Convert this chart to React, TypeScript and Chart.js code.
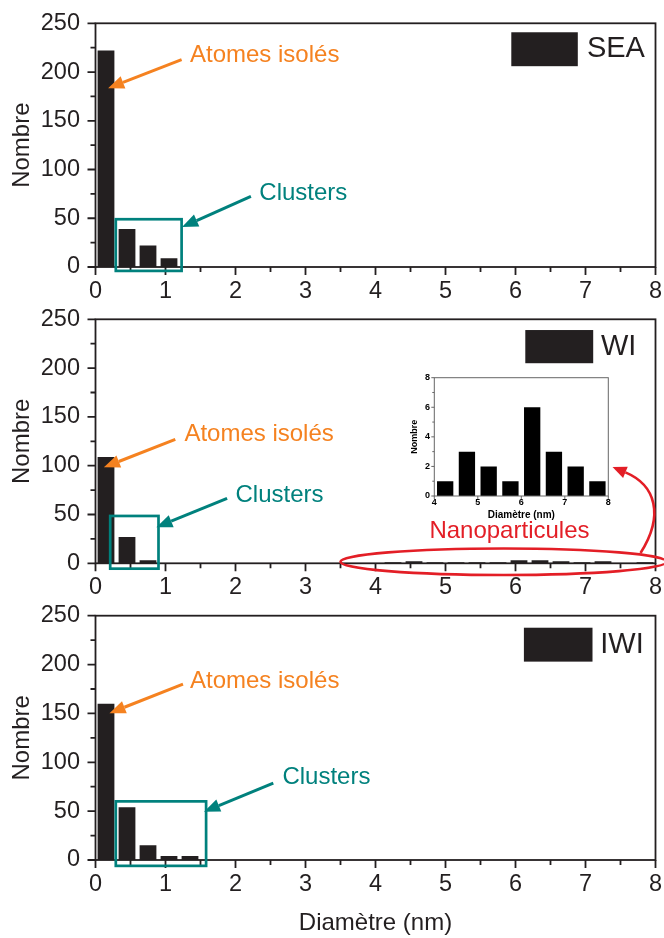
import React, { useEffect, useRef } from 'react';
import { Chart, registerables } from 'chart.js';
Chart.register(...registerables);

// ---------- data ----------
const seaDiam = [0.15, 0.45, 0.75, 1.05];
const seaCount = [222, 39, 22, 9];
const wiDiam = [0.15, 0.45, 0.75, 4.25, 4.55, 4.85, 5.15, 5.45, 5.75, 6.05, 6.35, 6.65, 6.95, 7.25, 7.85];
const wiCount = [109, 27, 3, 1, 2, 1, 1, 1, 1, 3, 3, 2, 1, 2, 1];
const iwiDiam = [0.15, 0.45, 0.75, 1.05, 1.35];
const iwiCount = [160, 54, 15, 4, 4];
const insetDiam = [4.25, 4.75, 5.25, 5.75, 6.25, 6.75, 7.25, 7.75];
const insetCount = [1, 3, 2, 1, 6, 3, 2, 1];
const xRange = [0, 8];
const yRange = [0, 250];
const insetXRange = [4, 8];
const insetYRange = [0, 8];

// ---------- styles ----------
const DARK = '#231F20';
const ORANGE = '#F58220';
const TEAL = '#00817D';
const RED = '#E31E26';
const FONT = "'Liberation Sans', Arial, Helvetica, sans-serif";

const frameTicks = {
  id: 'frameTicks',
  afterDraw(chart: any, _a: any, o: any) {
    const { ctx, chartArea: a, scales } = chart;
    const x = scales.x, y = scales.y;
    ctx.save();
    ctx.strokeStyle = o.color;
    ctx.lineWidth = o.lineWidth;
    ctx.strokeRect(a.left, a.top, a.right - a.left, a.bottom - a.top);
    ctx.beginPath();
    const n = Math.round((x.max - x.min) / o.xMinor);
    for (let i = 0; i <= n; i++) {
      const v = x.min + i * o.xMinor;
      const major = Math.abs(v / o.xMajor - Math.round(v / o.xMajor)) < 1e-6;
      const px = x.getPixelForValue(v);
      ctx.moveTo(px, a.bottom);
      ctx.lineTo(px, a.bottom + (major ? o.majorLen : o.minorLen));
    }
    const m = Math.round((y.max - y.min) / o.yMinor);
    for (let i = 0; i <= m; i++) {
      const v = y.min + i * o.yMinor;
      const major = Math.abs(v / o.yMajor - Math.round(v / o.yMajor)) < 1e-6;
      const py = y.getPixelForValue(v);
      ctx.moveTo(a.left, py);
      ctx.lineTo(a.left - (major ? o.majorLen : o.minorLen), py);
    }
    ctx.stroke();
    ctx.restore();
  },
};

function arrowHead(ctx: any, x1: number, y1: number, x2: number, y2: number, len: number, hw: number) {
  const ang = Math.atan2(y2 - y1, x2 - x1);
  const bx = x2 - len * Math.cos(ang), by = y2 - len * Math.sin(ang);
  ctx.beginPath();
  ctx.moveTo(x2, y2);
  ctx.lineTo(bx + hw * Math.sin(ang), by - hw * Math.cos(ang));
  ctx.lineTo(bx - hw * Math.sin(ang), by + hw * Math.cos(ang));
  ctx.closePath();
  ctx.fill();
  return [bx, by];
}

const anno = {
  id: 'anno',
  afterDraw(chart: any, _a: any, o: any) {
    const { ctx, scales } = chart;
    const X = (v: number) => scales.x.getPixelForValue(v);
    const Y = (v: number) => scales.y.getPixelForValue(v);
    ctx.save();
    for (const it of o.items || []) {
      ctx.strokeStyle = it.color;
      ctx.fillStyle = it.color;
      if (it.type === 'box') {
        ctx.lineWidth = 2.7;
        ctx.strokeRect(X(it.x1), Y(it.y2), X(it.x2) - X(it.x1), Y(it.y1) - Y(it.y2));
      } else if (it.type === 'arrow') {
        const x1 = X(it.x1), y1 = Y(it.y1), x2 = X(it.x2), y2 = Y(it.y2);
        const [bx, by] = arrowHead(ctx, x1, y1, x2, y2, 16, 6.5);
        ctx.lineWidth = 3;
        ctx.beginPath();
        ctx.moveTo(x1, y1);
        ctx.lineTo(bx, by);
        ctx.stroke();
      } else if (it.type === 'text') {
        ctx.font = `${it.size}px ${FONT}`;
        ctx.textAlign = 'left';
        ctx.textBaseline = 'middle';
        ctx.fillText(it.text, X(it.x), Y(it.y));
      } else if (it.type === 'rect') {
        ctx.fillRect(X(it.x1), Y(it.y2), X(it.x2) - X(it.x1), Y(it.y1) - Y(it.y2));
      } else if (it.type === 'ellipse') {
        const cx = X(it.cx), cy = Y(it.cy);
        const rx = X(it.cx + it.rx) - cx, ry = cy - Y(it.cy + it.ry);
        ctx.lineWidth = 2.6;
        ctx.beginPath();
        ctx.ellipse(cx, cy, rx, ry, 0, 0, Math.PI * 2);
        ctx.stroke();
      } else if (it.type === 'curve') {
        const p = it.pts.map((q: number[]) => [X(q[0]), Y(q[1])]);
        const [bx, by] = arrowHead(ctx, p[2][0], p[2][1], p[3][0], p[3][1], 14, 6);
        ctx.lineWidth = 2.6;
        ctx.beginPath();
        ctx.moveTo(p[0][0], p[0][1]);
        ctx.bezierCurveTo(p[1][0], p[1][1], p[2][0], p[2][1], bx, by);
        ctx.stroke();
      }
    }
    ctx.restore();
  },
};

type Panel = {
  xs: number[]; ys: number[]; top: number; height: number; padTop: number; xAxisH: number;
  xTitle: boolean; items: any[];
};

const panels: Panel[] = [
  {
    xs: seaDiam, ys: seaCount, top: 0, height: 305, padTop: 23.3, xAxisH: 38, xTitle: false,
    items: [
      { type: 'box', color: TEAL, x1: 0.29, x2: 1.23, y1: -4, y2: 49 },
      { type: 'arrow', color: ORANGE, x1: 1.23, y1: 212.8, x2: 0.18, y2: 183.4 },
      { type: 'text', color: ORANGE, text: 'Atomes isolés', x: 1.35, y: 217, size: 24 },
      { type: 'arrow', color: TEAL, x1: 2.22, y1: 72.5, x2: 1.236, y2: 41 },
      { type: 'text', color: TEAL, text: 'Clusters', x: 2.34, y: 75.8, size: 24 },
      { type: 'rect', color: DARK, x1: 5.94, x2: 6.89, y1: 206, y2: 240.8 },
      { type: 'text', color: DARK, text: 'SEA', x: 7.02, y: 223.4, size: 29 },
    ],
  },
  {
    xs: wiDiam, ys: wiCount, top: 305, height: 295, padTop: 14.3, xAxisH: 36.7, xTitle: false,
    items: [
      { type: 'box', color: TEAL, x1: 0.21, x2: 0.9, y1: -5.5, y2: 48.5 },
      { type: 'arrow', color: ORANGE, x1: 1.14, y1: 127, x2: 0.12, y2: 98.3 },
      { type: 'text', color: ORANGE, text: 'Atomes isolés', x: 1.27, y: 132.5, size: 24 },
      { type: 'arrow', color: TEAL, x1: 1.88, y1: 66.6, x2: 0.87, y2: 36.9 },
      { type: 'text', color: TEAL, text: 'Clusters', x: 2.0, y: 70, size: 24 },
      { type: 'ellipse', color: RED, cx: 5.83, cy: 1.6, rx: 2.33, ry: 13.6 },
      { type: 'text', color: RED, text: 'Nanoparticules', x: 4.77, y: 32.6, size: 24 },
      { type: 'curve', color: RED, pts: [[7.786, 10.6], [8.13, 49.5], [8.0, 80.2], [7.386, 98.7]] },
      { type: 'rect', color: DARK, x1: 6.14, x2: 7.11, y1: 205, y2: 239 },
      { type: 'text', color: DARK, text: 'WI', x: 7.22, y: 222, size: 29 },
    ],
  },
  {
    xs: iwiDiam, ys: iwiCount, top: 600, height: 338, padTop: 15.7, xAxisH: 78, xTitle: true,
    items: [
      { type: 'box', color: TEAL, x1: 0.29, x2: 1.58, y1: -6, y2: 60 },
      { type: 'arrow', color: ORANGE, x1: 1.25, y1: 180, x2: 0.2, y2: 150.3 },
      { type: 'text', color: ORANGE, text: 'Atomes isolés', x: 1.35, y: 183, size: 24 },
      { type: 'arrow', color: TEAL, x1: 2.54, y1: 78.6, x2: 1.55, y2: 49.5 },
      { type: 'text', color: TEAL, text: 'Clusters', x: 2.67, y: 85, size: 24 },
      { type: 'rect', color: DARK, x1: 6.12, x2: 7.1, y1: 203, y2: 237.7 },
      { type: 'text', color: DARK, text: 'IWI', x: 7.21, y: 220, size: 29 },
    ],
  },
];

function mainConfig(p: Panel): any {
  return {
    type: 'bar',
    data: {
      datasets: [{
        data: p.xs.map((x, i) => ({ x, y: p.ys[i] })),
        backgroundColor: DARK,
        borderWidth: 0,
        barPercentage: 1,
        categoryPercentage: 0.8,
      }],
    },
    options: {
      responsive: false,
      animation: false,
      events: [],
      layout: { padding: { top: p.padTop, right: 8.5, left: 0, bottom: 0 } },
      plugins: {
        legend: { display: false },
        tooltip: { enabled: false },
        frameTicks: { color: DARK, lineWidth: 1.8, xMajor: 1, xMinor: 0.5, yMajor: 50, yMinor: 25, majorLen: 8, minorLen: 5 },
        anno: { items: p.items },
      },
      scales: {
        x: {
          type: 'linear', min: xRange[0], max: xRange[1], offset: false,
          grid: { display: false, drawTicks: true, tickLength: 10 },
          border: { display: false },
          ticks: { stepSize: 1, padding: 0, color: DARK, font: { family: FONT, size: 23.5 } },
          title: { display: p.xTitle, text: 'Diamètre (nm)', color: DARK, font: { family: FONT, size: 24 }, padding: { top: 0, bottom: 0.5 } },
          afterFit: (s: any) => { s.height = p.xAxisH; },
        },
        y: {
          min: yRange[0], max: yRange[1],
          grid: { display: false, drawTicks: true, tickLength: 15.5 },
          border: { display: false },
          ticks: { stepSize: 50, padding: 0, color: DARK, font: { family: FONT, size: 23.5 } },
          title: { display: true, text: 'Nombre', color: DARK, font: { family: FONT, size: 24 }, padding: { top: 7.8, bottom: 0 } },
          afterFit: (s: any) => { s.width = 95.5; },
        },
      },
    },
    plugins: [frameTicks, anno],
  };
}

function insetConfig(): any {
  return {
    type: 'bar',
    data: {
      datasets: [{
        data: insetDiam.map((x, i) => ({ x, y: insetCount[i] })),
        backgroundColor: '#000000',
        borderWidth: 0,
        barPercentage: 1,
        categoryPercentage: 0.75,
      }],
    },
    options: {
      responsive: false,
      animation: false,
      events: [],
      layout: { padding: { top: 12.7, right: 11.7, left: 0, bottom: 0 } },
      plugins: {
        legend: { display: false },
        tooltip: { enabled: false },
        frameTicks: { color: '#666666', lineWidth: 1, xMajor: 1, xMinor: 1, yMajor: 2, yMinor: 1, majorLen: 3, minorLen: 2 },
      },
      scales: {
        x: {
          type: 'linear', min: insetXRange[0], max: insetXRange[1], offset: false,
          grid: { display: false, drawTicks: true, tickLength: 1 },
          border: { display: false },
          ticks: { stepSize: 1, padding: 0, color: '#000', font: { family: FONT, size: 9, weight: 'bold' } },
          title: { display: true, text: 'Diamètre (nm)', color: '#000', font: { family: FONT, size: 10, weight: 'bold' }, padding: { top: 0, bottom: 6 } },
          afterFit: (s: any) => { s.height = 31; },
        },
        y: {
          min: insetYRange[0], max: insetYRange[1],
          grid: { display: false, drawTicks: true, tickLength: 4.3 },
          border: { display: false },
          ticks: { stepSize: 2, padding: 0, color: '#000', font: { family: FONT, size: 9, weight: 'bold' } },
          title: { display: true, text: 'Nombre', color: '#000', font: { family: FONT, size: 9, weight: 'bold' }, padding: { top: 14.6, bottom: 0 } },
          afterFit: (s: any) => { s.width = 39.3; },
        },
      },
    },
    plugins: [frameTicks],
  };
}

function ChartCanvas({ config, left, top, width, height }: any) {
  const ref = useRef<HTMLCanvasElement>(null);
  useEffect(() => {
    const c = new Chart(ref.current as HTMLCanvasElement, config());
    return () => c.destroy();
  }, []);
  return (
    <canvas
      ref={ref}
      width={width}
      height={height}
      style={{ position: 'absolute', left, top, width, height, display: 'block' }}
    />
  );
}

export default function App() {
  return (
    <div style={{ position: 'absolute', left: 0, top: 0, width: 664, height: 938, background: '#fff', overflow: 'hidden' }}>
      {panels.map((p, i) => (
        <ChartCanvas key={i} config={() => mainConfig(p)} left={0} top={p.top} width={664} height={p.height} />
      ))}
      <ChartCanvas config={insetConfig} left={395} top={365} width={225} height={162} />
    </div>
  );
}
